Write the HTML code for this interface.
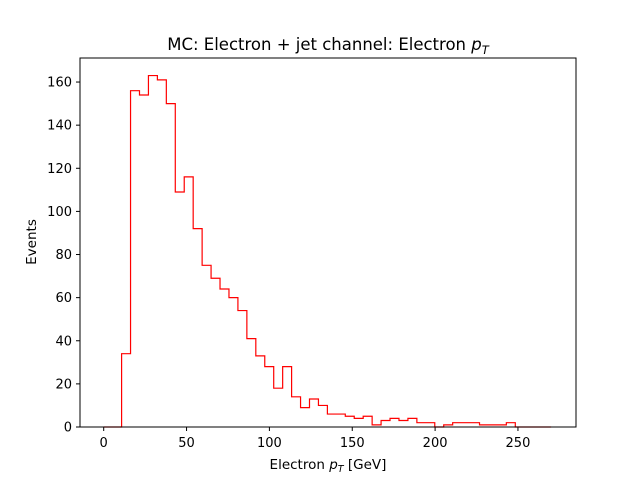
<!DOCTYPE html>
<html><head><meta charset="utf-8"><style>
body{margin:0;background:#fff}
svg text{font-family:"DejaVu Sans","Liberation Sans",sans-serif;fill:#000}
</style></head><body>
<svg id="chart" width="640" height="480" viewBox="0 0 640 480">
<rect width="640" height="480" fill="#fff"/>
<text x="328" y="50" font-size="16.5" text-anchor="middle">MC: Electron + jet channel: Electron <tspan font-style="italic">p</tspan><tspan font-size="11.5" dy="4" font-style="italic">T</tspan></text>
<g id="ticks"></g>
<path id="hist" fill="none" stroke="#ff0000" stroke-width="1.2"/>
<rect x="80" y="58" width="496" height="369" fill="none" stroke="#000" stroke-width="1"/>
<text x="328" y="469" font-size="13.5" text-anchor="middle">Electron <tspan font-style="italic">p</tspan><tspan font-size="9.5" dy="3" font-style="italic">T</tspan><tspan dy="-3"> [GeV]</tspan></text>
<text transform="translate(36,242) rotate(-90)" font-size="13.5" text-anchor="middle">Events</text>
</svg>
<script>
const binStart = 0;
const binWidth = 5.4;
const counts = [0,0,34,156,154,163,161,150,109,116,92,75,69,64,60,54,41,33,28,18,28,14,9,13,10,6,6,5,4,5,1,3,4,3,4,2,2,0,1,2,2,2,1,1,1,2,0,0,0,0];
const xTicks = [0,50,100,150,200,250];
const yTicks = [0,20,40,60,80,100,120,140,160];
const NS='http://www.w3.org/2000/svg';
function xs(v){return 103.7 + v*1.657;}
function ys(v){return 427 - v*2.156;}
let d='M'+xs(binStart)+','+ys(0);
counts.forEach((c,i)=>{
  const x0=xs(binStart+i*binWidth), x1=xs(binStart+(i+1)*binWidth);
  d+=' L'+x0+','+ys(c)+' L'+x1+','+ys(c);
});
d+=' L'+xs(binStart+counts.length*binWidth)+','+ys(0);
document.getElementById('hist').setAttribute('d',d);
const g=document.getElementById('ticks');
xTicks.forEach(t=>{
  const l=document.createElementNS(NS,'line');
  l.setAttribute('x1',xs(t));l.setAttribute('x2',xs(t));l.setAttribute('y1',427);l.setAttribute('y2',431);l.setAttribute('stroke','#000');
  
  
  g.appendChild(l);
  const tx=document.createElementNS(NS,'text');
  tx.setAttribute('x',xs(t));tx.setAttribute('y',447);tx.setAttribute('font-size','13');tx.setAttribute('text-anchor','middle');
  tx.textContent=t;
  
  
  g.appendChild(tx);
});
yTicks.forEach(t=>{
  const l=document.createElementNS(NS,'line');
  l.setAttribute('x1',76);l.setAttribute('x2',80);l.setAttribute('y1',ys(t));l.setAttribute('y2',ys(t));l.setAttribute('stroke','#000');
  
  
  g.appendChild(l);
  const tx=document.createElementNS(NS,'text');
  tx.setAttribute('x',72);tx.setAttribute('y',ys(t)+4.5);tx.setAttribute('font-size','13');tx.setAttribute('text-anchor','end');
  tx.textContent=t;
  
  
  g.appendChild(tx);
});
</script>
</body></html>
